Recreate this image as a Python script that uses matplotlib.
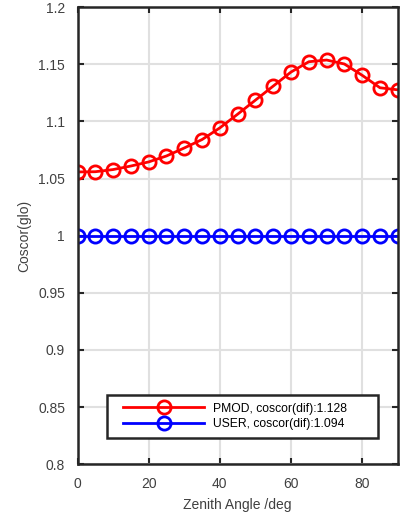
import numpy as np
import matplotlib
matplotlib.use("Agg")
import matplotlib.pyplot as plt
from matplotlib.lines import Line2D
from matplotlib.legend_handler import HandlerLine2D

plt.rcParams['font.family'] = ['Liberation Sans', 'DejaVu Sans']

zenith = list(range(0, 91, 5))
pmod = [1.0558, 1.0560, 1.0579, 1.0610, 1.0646, 1.0698, 1.0768, 1.0842, 1.0944,
        1.1064, 1.1187, 1.1310, 1.1433, 1.1523, 1.1538, 1.1503, 1.1404, 1.1295, 1.1277]
user = [1.0] * len(zenith)
labels = ["PMOD, coscor(dif):1.128", "USER, coscor(dif):1.094"]

fig = plt.figure(figsize=(4.08, 5.18), dpi=100)
ax = fig.add_axes([0.19, 0.104, 0.785, 0.882])

ax.plot(zenith, pmod, color='red', lw=2, marker='o', ms=9.5, mfc='none', mew=2, label=labels[0])
ax.plot(zenith, user, color='blue', lw=2, marker='o', ms=9.5, mfc='none', mew=2, label=labels[1])

ax.set_xlim(0, 90)
ax.set_ylim(0.8, 1.2)
ax.set_xticks([0, 20, 40, 60, 80])
ax.set_yticks(np.arange(0.8, 1.201, 0.05))
ax.set_yticklabels(["0.8", "0.85", "0.9", "0.95", "1", "1.05", "1.1", "1.15", "1.2"])
ax.grid(True, color='#e0e0e0', lw=1.5)
ax.set_axisbelow(True)
ax.tick_params(direction='in', top=True, right=True, labelsize=10, colors='#262626',
               labelcolor='#404040', length=4, width=1.5, pad=9)
for s in ax.spines.values():
    s.set_linewidth(1.8)
    s.set_color('#262626')
ax.set_xlabel("Zenith Angle /deg", fontsize=10, color='#404040', labelpad=5)
ax.set_ylabel("Coscor(glo)", fontsize=10, color='#404040', labelpad=5)

# matlab-like legend: wide box, handle pushed in from the left edge
leg = ax.legend(loc='lower left', bbox_to_anchor=(0.092, 0.057, 0.847, 0), mode='expand',
                borderaxespad=0, fontsize=8.7, handlelength=7.4, fancybox=False,
                framealpha=1, edgecolor='#262626', borderpad=0.65, labelspacing=0.3,
                handletextpad=0.75, handler_map={Line2D: HandlerLine2D(xpad=0.68)})
leg.get_frame().set_linewidth(1.8)

fig.savefig("out.png", dpi=100)
